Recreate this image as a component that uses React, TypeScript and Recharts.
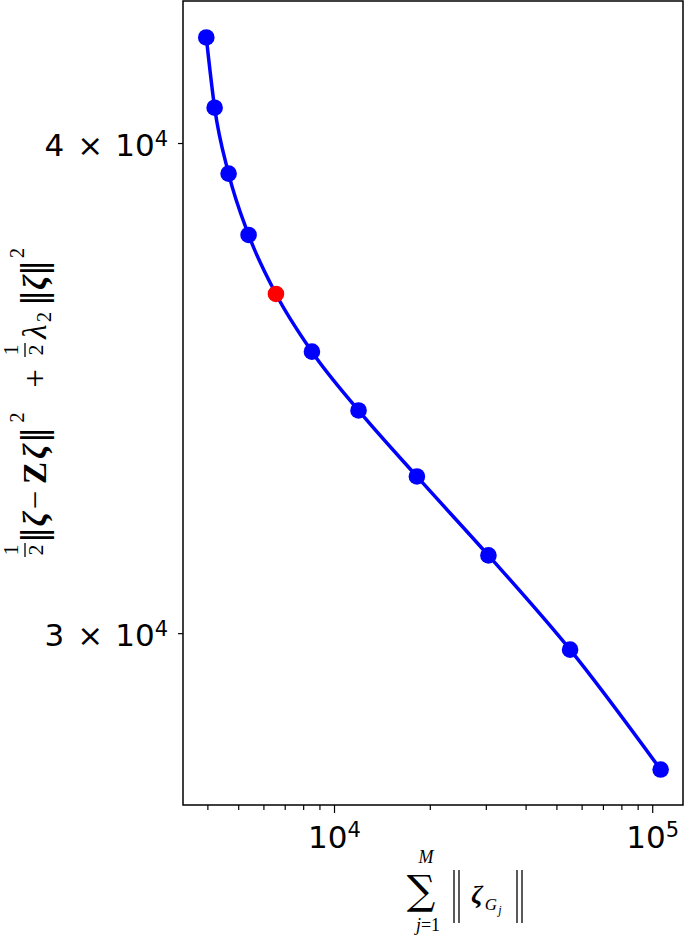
import React from 'react';
import { LineChart, Line, XAxis, YAxis, ReferenceArea } from 'recharts';

// sum of group norms (x) vs. objective value (y), log-log
const groupNorms = [3954, 4200, 4647, 5370, 6546, 8492, 11900, 18150, 30460, 55000, 105900];
const objective = [42570, 40850, 39300, 37910, 36620, 35400, 34200, 32900, 31410, 29720, 27700];
const selectedIndex = 4;

const xMajorTicks = [10000, 100000];
const xMajorLabels = ['4', '5'];
const xMinorTicks = [4000, 5000, 6000, 7000, 8000, 9000, 20000, 30000, 40000, 50000, 60000, 70000, 80000, 90000];
const yTicks = [30000, 40000];
const yTickLabels = ['3', '4'];

const xDomain = [3341, 124500];
const yDomain = [27130, 43490];

const data = groupNorms.map((x, i) => ({ x, y: objective[i], selected: i === selectedIndex }));

const tickFont = '"DejaVu Sans", sans-serif';
const mathFont = '"Liberation Serif", "DejaVu Serif", serif';

const XTick = (props: any) => {
  const { x, y, payload } = props;
  const idx = xMajorTicks.indexOf(payload.value);
  const major = idx >= 0;
  return (
    <g>
      <line x1={x} y1={y} x2={x} y2={y + (major ? 8 : 5)} stroke="#000" strokeWidth={1.2} />
      {major && (
        <text x={x} y={y + 43} textAnchor="middle" fontFamily={tickFont} fontSize={31} fill="#000">
          10<tspan dy={-11} fontSize={21}>{xMajorLabels[idx]}</tspan>
        </text>
      )}
    </g>
  );
};

const YTick = (props: any) => {
  const { x, y, payload } = props;
  const idx = yTicks.indexOf(payload.value);
  return (
    <g>
      <line x1={x} y1={y} x2={x - 5} y2={y} stroke="#000" strokeWidth={1.2} />
      <text x={x - 15} y={y + 12} textAnchor="end" fontFamily={tickFont} fontSize={31} fill="#000">
        {yTickLabels[idx]}
        <tspan dx={13}>×</tspan>
        <tspan dx={12}>10</tspan>
        <tspan dy={-10} fontSize={21}>4</tspan>
      </text>
    </g>
  );
};

const Dot = (props: any) => {
  const { cx, cy, payload, index } = props;
  return <circle key={index} cx={cx} cy={cy} r={8.3} fill={payload.selected ? '#ff0000' : '#0000ff'} stroke="none" />;
};

const Frac = ({ u }: { u: number }) => (
  <g>
    <text x={u} y={18} textAnchor="middle" fontFamily={mathFont} fontSize={22}>1</text>
    <line x1={u - 7} y1={25} x2={u + 7} y2={25} stroke="#000" strokeWidth={1.3} />
    <text x={u} y={43} textAnchor="middle" fontFamily={mathFont} fontSize={22}>2</text>
  </g>
);

const YLabel = () => {
  const m = { fontFamily: mathFont, fontSize: 33, textAnchor: 'middle' as const };
  const bars = { fontFamily: '"DejaVu Sans", sans-serif', fontSize: 33, textAnchor: 'middle' as const };
  const v = 46;
  return (
    <g transform="translate(0,560) rotate(-90)">
      <Frac u={10} />
      <text x={25} y={v} {...bars}>‖</text>
      <text x={41} y={v} {...m} fontStyle="italic" fontWeight="bold">ζ</text>
      <text x={60} y={v} {...m}>−</text>
      <text x={87} y={v} {...m} fontWeight="bold">Z</text>
      <text x={108.5} y={v} {...m} fontStyle="italic" fontWeight="bold">ζ</text>
      <text x={125} y={v} {...bars}>‖</text>
      <text x={142.5} y={24} {...m} fontSize={20}>2</text>
      <text x={181.5} y={v} {...m}>+</text>
      <Frac u={210} />
      <text x={228.5} y={v} {...m} fontStyle="italic">λ</text>
      <text x={243} y={v + 5} {...m} fontSize={20}>2</text>
      <text x={262} y={v} {...bars}>‖</text>
      <text x={277.5} y={v} {...m} fontStyle="italic" fontWeight="bold">ζ</text>
      <text x={292} y={v} {...bars}>‖</text>
      <text x={307} y={24} {...m} fontSize={20}>2</text>
    </g>
  );
};

const XLabel = () => (
  <g fill="#000">
    <text x={426} y={863} textAnchor="middle" fontFamily={mathFont} fontStyle="italic" fontSize={18}>M</text>
    <text x={421} y={904} textAnchor="middle" fontFamily='"DejaVu Serif", serif' fontSize={40}>∑</text>
    <text x={428} y={931} textAnchor="middle" fontFamily={mathFont} fontSize={18}>
      <tspan fontStyle="italic">j</tspan>=1
    </text>
    <line x1={454} y1={870} x2={454} y2={923} stroke="#000" strokeWidth={1.3} />
    <line x1={459} y1={870} x2={459} y2={923} stroke="#000" strokeWidth={1.3} />
    <text x={477} y={903} textAnchor="middle" fontFamily={mathFont} fontStyle="italic" fontWeight="bold" fontSize={26}>ζ</text>
    <text x={491} y={910} textAnchor="middle" fontFamily={mathFont} fontStyle="italic" fontSize={17}>G</text>
    <text x={500} y={914} textAnchor="middle" fontFamily={mathFont} fontStyle="italic" fontSize={12}>j</text>
    <line x1={517} y1={870} x2={517} y2={923} stroke="#000" strokeWidth={1.3} />
    <line x1={522} y1={870} x2={522} y2={923} stroke="#000" strokeWidth={1.3} />
  </g>
);

export default function App() {
  return (
    <div style={{ position: 'absolute', left: 0, top: 0, width: 685, height: 936, background: '#fff' }}>
      <LineChart width={685} height={936} data={data} margin={{ top: 1, right: 2, bottom: 0, left: 0 }}>
        <XAxis
          dataKey="x"
          type="number"
          scale="log"
          domain={xDomain}
          allowDataOverflow
          ticks={[...xMinorTicks, ...xMajorTicks]}
          interval={0}
          tick={(p: any) => <XTick {...p} />}
          tickLine={false}
          axisLine={false}
          tickSize={0}
          tickMargin={0}
          height={131}
        />
        <YAxis
          type="number"
          scale="log"
          domain={yDomain}
          allowDataOverflow
          ticks={yTicks}
          interval={0}
          tick={(p: any) => <YTick {...p} />}
          tickLine={false}
          axisLine={false}
          tickSize={0}
          tickMargin={0}
          width={183}
        />
        <ReferenceArea
          x1={xDomain[0]}
          x2={xDomain[1]}
          y1={yDomain[0]}
          y2={yDomain[1]}
          fill="none"
          fillOpacity={0}
          stroke="#000"
          strokeWidth={1.5}
          ifOverflow="visible"
        />
        <Line
          type="monotone"
          dataKey="y"
          stroke="#0000ff"
          strokeWidth={3.5}
          dot={(p: any) => <Dot {...p} />}
          activeDot={false}
          isAnimationActive={false}
        />
        <YLabel />
        <XLabel />
      </LineChart>
    </div>
  );
}
